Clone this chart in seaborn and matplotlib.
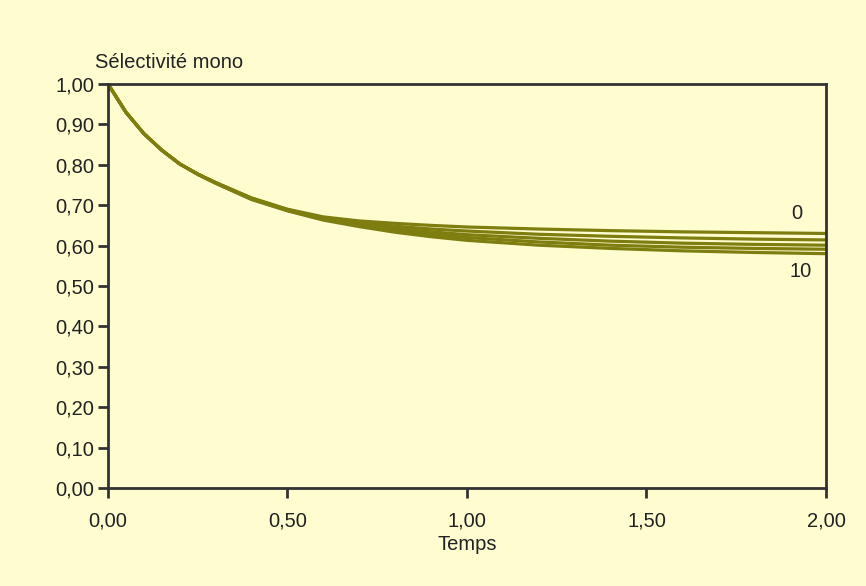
import numpy as np
import pandas as pd
import matplotlib
matplotlib.use("Agg")
import matplotlib.pyplot as plt
import seaborn as sns

# Time points (shared by all curves)
temps = [0.0, 0.05, 0.10, 0.15, 0.20, 0.25, 0.30, 0.40, 0.50, 0.60,
         0.70, 0.80, 0.90, 1.00, 1.20, 1.40, 1.60, 1.80, 2.00]

# Selectivity curves (parameter 0 ... 10)
sel_0 = [1.00, 0.930, 0.877, 0.836, 0.802, 0.777, 0.756, 0.718, 0.690, 0.671,
         0.661, 0.655, 0.650, 0.646, 0.641, 0.637, 0.634, 0.632, 0.630]
sel_2 = [1.00, 0.930, 0.877, 0.836, 0.802, 0.777, 0.756, 0.717, 0.689, 0.669,
         0.657, 0.648, 0.641, 0.636, 0.628, 0.623, 0.619, 0.616, 0.614]
sel_5 = [1.00, 0.930, 0.877, 0.836, 0.802, 0.777, 0.755, 0.716, 0.688, 0.667,
         0.654, 0.643, 0.634, 0.627, 0.618, 0.611, 0.606, 0.603, 0.601]
sel_7 = [1.00, 0.930, 0.877, 0.836, 0.802, 0.777, 0.755, 0.715, 0.687, 0.665,
         0.650, 0.638, 0.628, 0.620, 0.609, 0.601, 0.596, 0.593, 0.591]
sel_10 = [1.00, 0.930, 0.877, 0.836, 0.802, 0.776, 0.754, 0.714, 0.686, 0.663,
          0.647, 0.633, 0.622, 0.613, 0.601, 0.593, 0.587, 0.583, 0.580]

curves = {"0": sel_0, "2": sel_2, "5": sel_5, "7": sel_7, "10": sel_10}

rows = []
for name, vals in curves.items():
    for t, v in zip(temps, vals):
        rows.append({"Temps": t, "Sel": v, "curve": name})
df = pd.DataFrame(rows)

bg = "#FFFCCF"
olive = "#7E7E10"
dark = "#333333"
txt = "#222222"

sns.set_style("white")
plt.rcParams["font.family"] = ["Liberation Sans", "DejaVu Sans"]

fig = plt.figure(figsize=(8.66, 5.86), dpi=100, facecolor=bg)
ax = fig.add_axes([0.1247, 0.1672, 0.9538 - 0.1247, 0.8567 - 0.1672])
ax.set_facecolor(bg)

sns.lineplot(data=df, x="Temps", y="Sel", units="curve", estimator=None,
             color=olive, linewidth=2.3, ax=ax, legend=False)

ax.set_xlim(0, 2)
ax.set_ylim(0, 1)
ax.set_xticks([0, 0.5, 1.0, 1.5, 2.0])
ax.set_xticklabels(["0,00", "0,50", "1,00", "1,50", "2,00"])
yt = np.round(np.arange(0, 1.01, 0.1), 2)
ax.set_yticks(yt)
ax.set_yticklabels([f"{v:.2f}".replace(".", ",") for v in yt])

for sp in ax.spines.values():
    sp.set_visible(True)
    sp.set_color(dark)
    sp.set_linewidth(2)

ax.tick_params(axis="both", direction="out", length=7, width=2, color=dark,
               labelsize=14.5, labelcolor=txt)
ax.tick_params(axis="x", pad=10)
ax.tick_params(axis="y", pad=3)
ax.tick_params(left=True, bottom=True)

ax.set_xlabel("Temps", fontsize=14.5, color=txt, labelpad=3)
ax.set_ylabel("")
fig.text(95 / 866, 1 - 62 / 586, "Sélectivité mono", fontsize=14.5,
         color=txt, va="center", ha="left")

ax.text(1.92, 0.68, "0", fontsize=14.5, color=txt, ha="center", va="center")
ax.text(1.93, 0.535, "10", fontsize=14.5, color=txt, ha="center", va="center")

fig.savefig("out.png", dpi=100, facecolor=bg)
